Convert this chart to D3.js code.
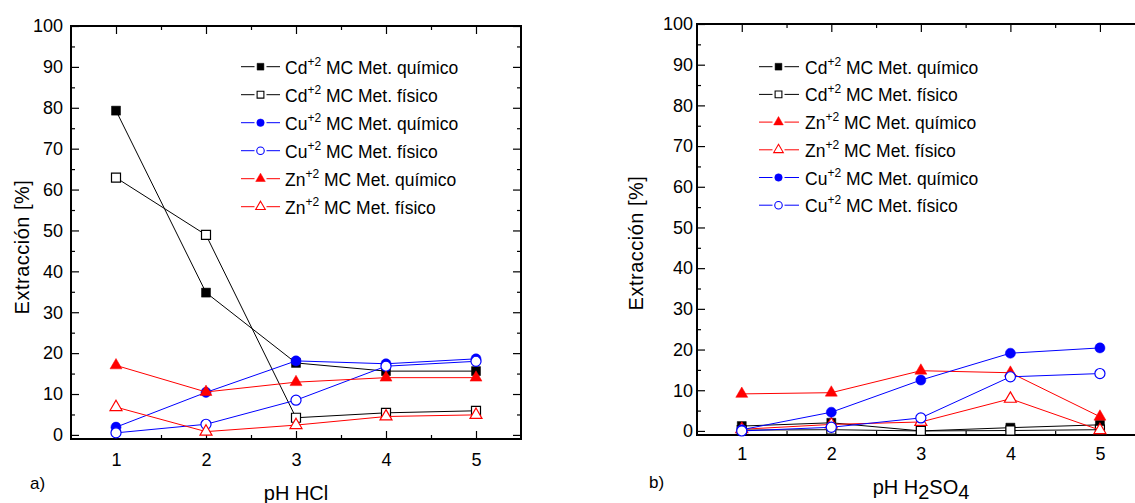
<!DOCTYPE html>
<html><head><meta charset="utf-8">
<script src="https://cdn.jsdelivr.net/npm/d3@7"></script>
<style>
body{margin:0;background:#fff}
svg{display:block}
text{font-family:"Liberation Sans",Arial,sans-serif;fill:#000}
</style>
</head><body>
<svg id="chart" width="1135" height="503"></svg>
<script>
// ---------- data ----------
const phLevels = [1, 2, 3, 4, 5];
const xTickValues = [1, 2, 3, 4, 5];
const xMinorValues = [1.5, 2.5, 3.5, 4.5];
const yTickValues = [0, 10, 20, 30, 40, 50, 60, 70, 80, 90, 100];
const yMinorValues = [5, 15, 25, 35, 45, 55, 65, 75, 85, 95];

// panel a) pH HCl
const cdQuimicoHCl = [79.3, 34.8, 17.6, 15.6, 15.6];
const cdFisicoHCl  = [62.9, 48.9, 4.2, 5.4, 5.9];
const cuQuimicoHCl = [1.9, 10.4, 18.1, 17.4, 18.6];
const cuFisicoHCl  = [0.5, 2.6, 8.5, 16.8, 18.0];
const znQuimicoHCl = [17.0, 10.5, 12.9, 14.0, 14.0];
const znFisicoHCl  = [6.8, 0.8, 2.4, 4.5, 4.9];

// panel b) pH H2SO4
const cdQuimicoH2SO4 = [1.2, 2.0, 0.0, 0.8, 1.5];
const cdFisicoH2SO4  = [0.2, 0.3, 0.0, 0.1, 0.3];
const znQuimicoH2SO4 = [9.1, 9.4, 14.8, 14.3, 3.5];
const znFisicoH2SO4  = [0.4, 1.6, 2.2, 7.9, 0.2];
const cuQuimicoH2SO4 = [0.3, 4.6, 12.5, 19.1, 20.4];
const cuFisicoH2SO4  = [0.0, 0.9, 3.2, 13.3, 14.1];

const ionsA    = ["Cd", "Cd", "Cu", "Cu", "Zn", "Zn"];
const methodsA = ["MC Met. químico", "MC Met. físico", "MC Met. químico", "MC Met. físico", "MC Met. químico", "MC Met. físico"];
const valuesA  = [cdQuimicoHCl, cdFisicoHCl, cuQuimicoHCl, cuFisicoHCl, znQuimicoHCl, znFisicoHCl];

const ionsB    = ["Cd", "Cd", "Zn", "Zn", "Cu", "Cu"];
const methodsB = ["MC Met. químico", "MC Met. físico", "MC Met. químico", "MC Met. físico", "MC Met. químico", "MC Met. físico"];
const valuesB  = [cdQuimicoH2SO4, cdFisicoH2SO4, znQuimicoH2SO4, znFisicoH2SO4, cuQuimicoH2SO4, cuFisicoH2SO4];

const chargeLabel = "+2";
const yTitle = "Extracción [%]";

// ---------- styles ----------
const ionColor  = {Cd: "#000000", Cu: "#0000ff", Zn: "#ff0000"};
const ionSymbol = {Cd: d3.symbolSquare, Cu: d3.symbolCircle, Zn: d3.symbolTriangle};
const plotSize  = {Cd: 81, Cu: 80, Zn: 62};
const legSize   = {Cd: 46, Cu: 44, Zn: 40};

const svg = d3.select("#chart");

function drawPanel(cfg) {
  const x = d3.scaleLinear().domain([0.5, 5.5]).range([cfg.x0, cfg.x1]);
  const y = d3.scaleLinear().domain([-1, 100]).range([cfg.yB, cfg.yT]);
  const g = svg.append("g");

  // axes (ticks inward)
  g.append("g").attr("transform", `translate(0,${cfg.yB})`)
    .call(d3.axisBottom(x).tickValues(xTickValues).tickSize(-8).tickPadding(cfg.xPad).tickFormat(d3.format("d")));
  g.append("g").attr("transform", `translate(0,${cfg.yB})`)
    .call(d3.axisBottom(x).tickValues(xMinorValues).tickSize(-4).tickFormat(""));
  g.append("g").attr("transform", `translate(0,${cfg.yT})`)
    .call(d3.axisTop(x).tickValues(xTickValues).tickSize(-8).tickFormat(""));
  g.append("g").attr("transform", `translate(0,${cfg.yT})`)
    .call(d3.axisTop(x).tickValues(xMinorValues).tickSize(-4).tickFormat(""));
  g.append("g").attr("transform", `translate(${cfg.x0},0)`)
    .call(d3.axisLeft(y).tickValues(yTickValues).tickSize(-8).tickPadding(cfg.yPad).tickFormat(d3.format("d")));
  g.append("g").attr("transform", `translate(${cfg.x0},0)`)
    .call(d3.axisLeft(y).tickValues(yMinorValues).tickSize(-4).tickFormat(""));
  g.append("g").attr("transform", `translate(${cfg.x1},0)`)
    .call(d3.axisRight(y).tickValues(yTickValues).tickSize(-8).tickFormat(""));
  g.append("g").attr("transform", `translate(${cfg.x1},0)`)
    .call(d3.axisRight(y).tickValues(yMinorValues).tickSize(-4).tickFormat(""));

  g.selectAll(".domain").remove();
  g.selectAll(".tick line").attr("stroke", "#000").attr("stroke-width", 1.2);
  g.selectAll(".tick text").attr("font-size", 18).attr("font-family", '"Liberation Sans",Arial,sans-serif').attr("fill", "#000");

  // frame
  g.append("rect").attr("x", cfg.x0).attr("y", cfg.yT)
    .attr("width", cfg.x1 - cfg.x0).attr("height", cfg.yB - cfg.yT)
    .attr("fill", "none").attr("stroke", "#000").attr("stroke-width", 2);

  // series
  const line = d3.line().x((d, i) => x(phLevels[i])).y(d => y(d));
  cfg.ions.forEach((ion, k) => {
    const vals = cfg.values[k];
    const filled = cfg.methods[k].indexOf("químico") >= 0;
    const col = ionColor[ion];
    const sg = g.append("g");
    sg.append("path").datum(vals).attr("d", line)
      .attr("fill", "none").attr("stroke", col).attr("stroke-width", 1);
    sg.selectAll("path.m").data(vals).join("path").attr("class", "m")
      .attr("transform", (d, i) => `translate(${x(phLevels[i])},${y(d)})`)
      .attr("d", d3.symbol().type(ionSymbol[ion]).size(plotSize[ion]))
      .attr("fill", filled ? col : "#fff")
      .attr("stroke", col).attr("stroke-width", filled ? 0.5 : 1.2);
  });

  // legend
  const L = cfg.legend;
  cfg.ions.forEach((ion, k) => {
    const ry = L.y0 + k * L.step;
    const filled = cfg.methods[k].indexOf("químico") >= 0;
    const col = ionColor[ion];
    g.append("line").attr("x1", L.lx0).attr("x2", L.mx - 6).attr("y1", ry).attr("y2", ry)
      .attr("stroke", col).attr("stroke-width", 1);
    g.append("line").attr("x1", L.mx + 6).attr("x2", L.lx1).attr("y1", ry).attr("y2", ry)
      .attr("stroke", col).attr("stroke-width", 1);
    g.append("path").attr("transform", `translate(${L.mx},${ry})`)
      .attr("d", d3.symbol().type(ionSymbol[ion]).size(legSize[ion]))
      .attr("fill", filled ? col : "#fff").attr("stroke", col).attr("stroke-width", filled ? 0.5 : 1.1);
    const t = g.append("text").attr("x", L.tx).attr("y", ry + 7).attr("font-size", 17.5);
    t.append("tspan").text(ion);
    t.append("tspan").attr("font-size", 12).attr("dy", -8).text(chargeLabel);
    t.append("tspan").attr("dy", 8).text(" " + cfg.methods[k]);
  });

  // y title
  g.append("text").attr("transform", `translate(${cfg.ytx},${cfg.yty}) rotate(-90)`)
    .attr("text-anchor", "middle").attr("dy", "0.35em").attr("font-size", 20)
    .attr("letter-spacing", 0.5).text(yTitle);

  // panel letter
  g.append("text").attr("x", cfg.letterX).attr("y", cfg.letterY).attr("font-size", 17).text(cfg.letter);
  return g;
}

const gA = drawPanel({
  x0: 71, x1: 521, yT: 26, yB: 439, xPad: 14, yPad: 8,
  ions: ionsA, methods: methodsA, values: valuesA,
  legend: {lx0: 241, lx1: 280, mx: 260.5, tx: 285, y0: 66.7, step: 28},
  ytx: 22, yty: 247, letter: "a)", letterX: 30, letterY: 489
});
gA.append("text").attr("x", 296).attr("y", 500).attr("text-anchor", "middle")
  .attr("font-size", 20).text("pH HCl");

const gB = drawPanel({
  x0: 697, x1: 1144.7, yT: 24, yB: 435, xPad: 12, yPad: 4,
  ions: ionsB, methods: methodsB, values: valuesB,
  legend: {lx0: 759, lx1: 799, mx: 778.5, tx: 805, y0: 66.7, step: 27.7},
  ytx: 636, yty: 243, letter: "b)", letterX: 649, letterY: 488
});
const xt = gB.append("text").attr("x", 921).attr("y", 494).attr("text-anchor", "middle").attr("font-size", 20);
xt.append("tspan").text("pH H");
xt.append("tspan").attr("dy", 5).text("2");
xt.append("tspan").attr("dy", -5).text("SO");
xt.append("tspan").attr("dy", 5).text("4");
</script>
</body></html>
